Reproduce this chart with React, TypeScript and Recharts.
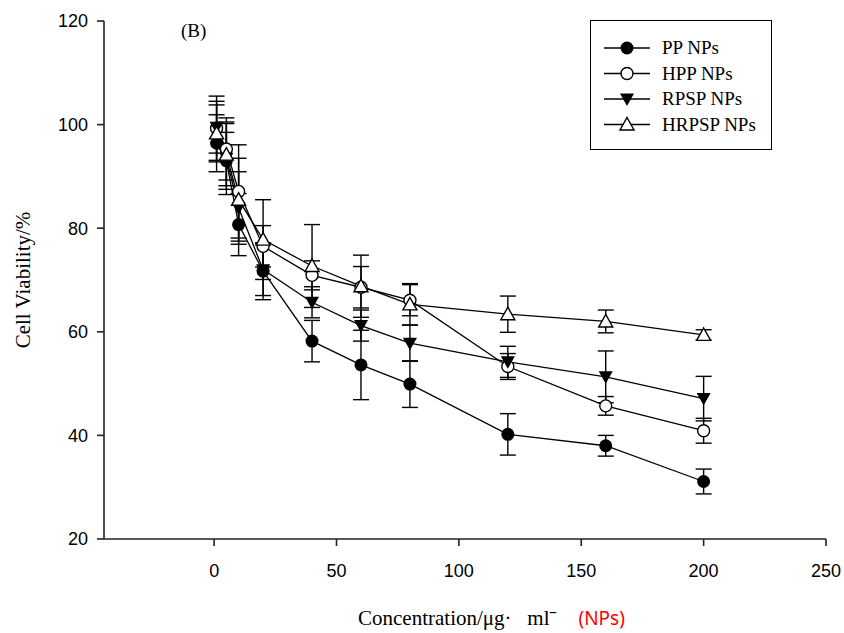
import React from 'react';
import {
  LineChart,
  Line,
  XAxis,
  YAxis,
  ErrorBar,
} from 'recharts';

// concentrations (µg/ml)
const concentrations = [1, 5, 10, 20, 40, 60, 80, 120, 160, 200];

// cell viability (%) and error bars
const ppValues = [96.4, 93.0, 80.7, 71.7, 58.2, 53.6, 49.9, 40.2, 38.0, 31.1];
const ppErrors = [5.5, 5.5, 6.0, 5.5, 4.0, 6.7, 4.5, 4.0, 2.0, 2.4];

const hppValues = [99.3, 95.3, 87.1, 76.5, 70.9, 68.6, 66.1, 53.3, 45.7, 40.9];
const hppErrors = [6.2, 6.0, 9.0, 4.0, 2.8, 4.0, 3.0, 2.5, 1.8, 2.4];

const rpspValues = [99.5, 93.5, 83.9, 72.0, 65.7, 61.2, 57.8, 54.2, 51.3, 47.1];
const rpspErrors = [5.0, 7.0, 7.0, 5.0, 3.0, 3.0, 3.5, 3.0, 5.0, 4.3];

const hrpspValues = [98.3, 94.2, 85.5, 77.8, 72.7, 68.8, 65.3, 63.4, 62.0, 59.4];
const hrpspErrors = [5.5, 6.0, 8.0, 7.7, 8.0, 6.0, 4.0, 3.5, 2.2, 1.0];

const xTicks = [0, 50, 100, 150, 200, 250];
const yTicks = [20, 40, 60, 80, 100, 120];

const data = concentrations.map((x, i) => ({
  x,
  pp: ppValues[i],
  ppE: ppErrors[i],
  hpp: hppValues[i],
  hppE: hppErrors[i],
  rpsp: rpspValues[i],
  rpspE: rpspErrors[i],
  hrpsp: hrpspValues[i],
  hrpspE: hrpspErrors[i],
}));

type Kind = 'filledCircle' | 'openCircle' | 'downTriangle' | 'upTriangle';

const SERIES: { key: string; name: string; kind: Kind }[] = [
  { key: 'pp', name: 'PP NPs', kind: 'filledCircle' },
  { key: 'hpp', name: 'HPP NPs', kind: 'openCircle' },
  { key: 'rpsp', name: 'RPSP NPs', kind: 'downTriangle' },
  { key: 'hrpsp', name: 'HRPSP NPs', kind: 'upTriangle' },
];

const SERIF = "'Liberation Serif', 'Times New Roman', serif";

const Marker = ({ cx, cy, kind }: { cx: number; cy: number; kind: Kind }) => {
  if (cx == null || cy == null) return null;
  switch (kind) {
    case 'filledCircle':
      return <circle cx={cx} cy={cy} r={6.5} fill="#000" />;
    case 'openCircle':
      return <circle cx={cx} cy={cy} r={6} fill="#fff" stroke="#000" strokeWidth={1.4} />;
    case 'downTriangle':
      return (
        <path
          d={`M${cx - 7},${cy - 5.5} L${cx + 7},${cy - 5.5} L${cx},${cy + 7} Z`}
          fill="#000"
        />
      );
    default:
      return (
        <path
          d={`M${cx - 7},${cy + 5.5} L${cx + 7},${cy + 5.5} L${cx},${cy - 7} Z`}
          fill="#fff"
          stroke="#000"
          strokeWidth={1.4}
        />
      );
  }
};

const LegendBox = () => (
  <div
    style={{
      position: 'absolute',
      left: 590,
      top: 20,
      width: 182,
      height: 130,
      border: '1.5px solid #000',
      background: '#fff',
      boxSizing: 'border-box',
    }}
  >
    <svg width={180} height={127} style={{ display: 'block' }}>
      {SERIES.map((s, i) => {
        const y = 27 + i * 25.5;
        return (
          <g key={s.key}>
            <line x1={13} x2={59} y1={y} y2={y} stroke="#000" strokeWidth={1.3} />
            <Marker cx={36} cy={y} kind={s.kind} />
            <text x={71} y={y + 6} fontFamily={SERIF} fontSize={19} fill="#000">
              {s.name}
            </text>
          </g>
        );
      })}
    </svg>
  </div>
);

const tickStyle = {
  fontFamily: "'Liberation Sans', Arial, sans-serif",
  fontSize: 18,
  fill: '#000',
};

export default function App() {
  return (
    <div style={{ position: 'absolute', left: 0, top: 0, width: 844, height: 633, background: '#fff' }}>
      <LineChart
        width={844}
        height={633}
        data={data}
        margin={{ top: 21, right: 18, left: 0, bottom: 0 }}
      >
        <XAxis
          dataKey="x"
          type="number"
          domain={[-45, 250]}
          ticks={xTicks}
          allowDataOverflow
          height={94}
          tickSize={7}
          tickMargin={18}
          tick={tickStyle}
          axisLine={{ stroke: '#222', strokeWidth: 1.6 }}
          tickLine={{ stroke: '#222', strokeWidth: 1.6 }}
        />
        <YAxis
          type="number"
          domain={[20, 120]}
          ticks={yTicks}
          allowDataOverflow
          width={104}
          tickSize={7}
          tickMargin={9}
          tick={tickStyle}
          axisLine={{ stroke: '#222', strokeWidth: 1.6 }}
          tickLine={{ stroke: '#222', strokeWidth: 1.6 }}
        />
        {SERIES.map((s) => (
          <Line
            key={s.key}
            dataKey={s.key}
            name={s.name}
            stroke="#000"
            strokeWidth={1.3}
            isAnimationActive={false}
            dot={(p: any) => <Marker key={`${s.key}-${p.index}`} cx={p.cx} cy={p.cy} kind={s.kind} />}
            activeDot={false}
          >
            <ErrorBar
              dataKey={`${s.key}E`}
              direction="y"
              width={8}
              stroke="#000"
              strokeWidth={1.4}
              isAnimationActive={false}
            />
          </Line>
        ))}
      </LineChart>

      <LegendBox />

      <div style={{ position: 'absolute', left: 181, top: 20, fontFamily: SERIF, fontSize: 19 }}>
        (B)
      </div>

      <div
        style={{
          position: 'absolute',
          left: 23,
          top: 280,
          transform: 'translate(-50%, -50%) rotate(-90deg)',
          whiteSpace: 'nowrap',
          fontFamily: SERIF,
          fontSize: 21,
        }}
      >
        Cell Viability/%
      </div>

      <div
        style={{
          position: 'absolute',
          left: 358,
          top: 605,
          whiteSpace: 'nowrap',
          fontFamily: SERIF,
          fontSize: 21,
        }}
      >
        Concentration/μg·&nbsp;&nbsp;&nbsp;mlˉ
        <span
          style={{
            marginLeft: 22,
            color: '#f00',
            fontFamily: "'Noto Sans', 'Liberation Sans', sans-serif",
            fontSize: 19,
          }}
        >
          (NPs)
        </span>
      </div>
    </div>
  );
}
